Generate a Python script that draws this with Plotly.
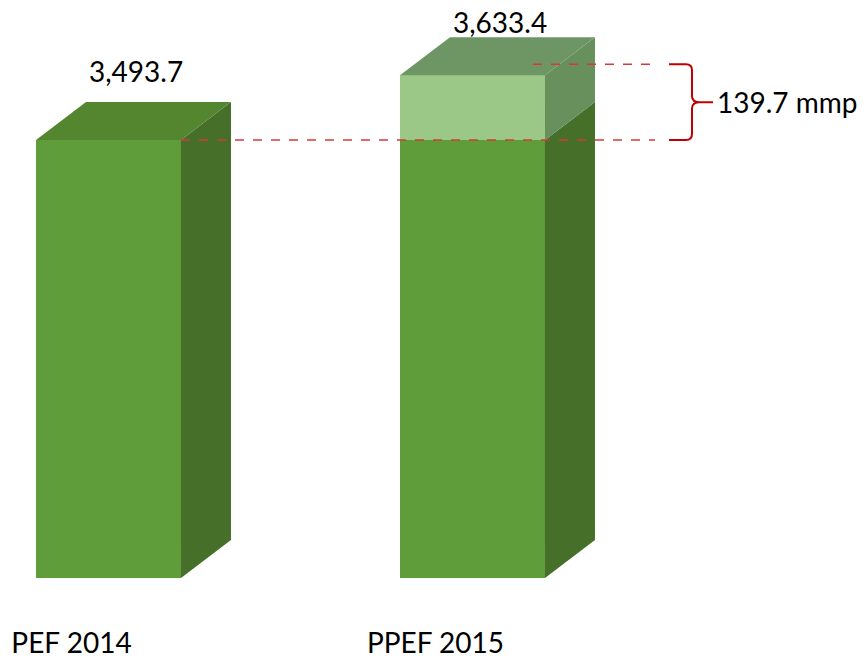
import plotly.graph_objects as go

# ---- data ----
categories = ["PEF 2014", "PPEF 2015"]
values = [3493.7, 3633.4]
value_labels = ["3,493.7", "3,633.4"]
diff_unit = "mmp"

# ---- layout constants ----
W, H = 865, 659
MB = 81
X_RANGE = [-0.298, -0.298 + W / 364.0]
Y_RANGE = [2552.0, 3795.0]
PX_X = W / (X_RANGE[1] - X_RANGE[0])
PX_Y = (H - MB) / (Y_RANGE[1] - Y_RANGE[0])
BAR_W = 145 / PX_X
DX = 50 / PX_X
DY = 38 / PX_Y
FLOOR = Y_RANGE[0]

FRONT = "#5f9c3a"
LIGHT = "#9bc787"
TOP_DARK = "#53862f"
SIDE_DARK = "#466f2a"
TOP_GREY = "#6e9664"
SIDE_GREY = "#68905c"
FONT = "Lato, 'Open Sans', sans-serif"
FS = 28

base_vals = [values[0]] * len(values)
incr_vals = [0] + [v - values[0] for v in values[1:]]
diff = values[1] - values[0]

fig = go.Figure()

fig.add_trace(go.Bar(x=[0, 1], y=base_vals, width=BAR_W, marker=dict(color=FRONT, line=dict(width=0)),
                     hoverinfo="skip", showlegend=False))
fig.add_trace(go.Bar(x=[0, 1], y=incr_vals, width=BAR_W, marker=dict(color=LIGHT, line=dict(width=0)),
                     hoverinfo="skip", showlegend=False))


def poly(xs, ys, color):
    fig.add_trace(go.Scatter(x=xs + [xs[0]], y=ys + [ys[0]], fill="toself", fillcolor=color,
                             mode="lines", line=dict(width=0, color=color), hoverinfo="skip",
                             showlegend=False))


for i, v in enumerate(values):
    x0, x1 = i - BAR_W / 2, i + BAR_W / 2
    b = base_vals[i]
    poly([x1, x1, x1 + DX, x1 + DX], [FLOOR, b, b + DY, FLOOR + DY], SIDE_DARK)
    if incr_vals[i] > 0:
        poly([x1, x1, x1 + DX, x1 + DX], [b, v, v + DY, b + DY], SIDE_GREY)
        top_col = TOP_GREY
    else:
        top_col = TOP_DARK
    poly([x0, x1, x1 + DX, x0 + DX], [v, v, v + DY, v + DY], top_col)

# value labels
label_yshift = [31, 15]
for i, v in enumerate(values):
    fig.add_annotation(x=i + DX * 0.55, y=v + DY, text=value_labels[i], showarrow=False,
                       yanchor="middle", yshift=label_yshift[i],
                       font=dict(family=FONT, size=FS, color="#000000"))


def X(px):
    return X_RANGE[0] + px / PX_X


# dashed reference lines
y_top = values[1] + 11 / PX_Y
fig.add_shape(type="line", x0=0 + BAR_W / 2, x1=X(655), y0=values[0], y1=values[0],
              line=dict(color="#d43a3a", width=1.5, dash="dash"), layer="above")
fig.add_shape(type="line", x0=X(533), x1=X(652), y0=y_top, y1=y_top,
              line=dict(color="#d43a3a", width=1.5, dash="dash"), layer="above")

# brace
yb = values[0]
ymid = (y_top + yb) / 2
r = 6 / PX_Y
path = (
    f"M {X(669)},{y_top} L {X(686)},{y_top} Q {X(692)},{y_top} {X(692)},{y_top - r} "
    f"L {X(692)},{ymid + r} Q {X(692)},{ymid} {X(700)},{ymid} L {X(713)},{ymid} "
    f"M {X(700)},{ymid} Q {X(692)},{ymid} {X(692)},{ymid - r} "
    f"L {X(692)},{yb + r} Q {X(692)},{yb} {X(686)},{yb} L {X(669)},{yb}"
)
fig.add_shape(type="path", path=path, line=dict(color="#c00000", width=2), layer="above")

fig.add_annotation(x=X(715), y=ymid, text=f"{diff:.1f} {diff_unit}", showarrow=False,
                   xanchor="left", yanchor="middle",
                   font=dict(family=FONT, size=FS, color="#000000"))

fig.update_layout(
    width=W, height=H, autosize=False,
    margin=dict(l=0, r=0, t=0, b=MB, pad=0),
    paper_bgcolor="white", plot_bgcolor="white",
    barmode="stack", bargap=0,
    showlegend=False,
    xaxis=dict(range=X_RANGE, tickvals=[0, 1], ticktext=categories, showgrid=False, zeroline=False,
               showline=False, ticks="", ticklabelshift=-37, ticklabelstandoff=46,
               tickfont=dict(family=FONT, size=FS, color="#000000"), fixedrange=True),
    yaxis=dict(range=Y_RANGE, visible=False, showgrid=False, zeroline=False, fixedrange=True),
)

fig.write_html("out.html", config={"displayModeBar": False},
               post_script="document.body.style.margin='0';document.body.style.overflow='hidden';")
